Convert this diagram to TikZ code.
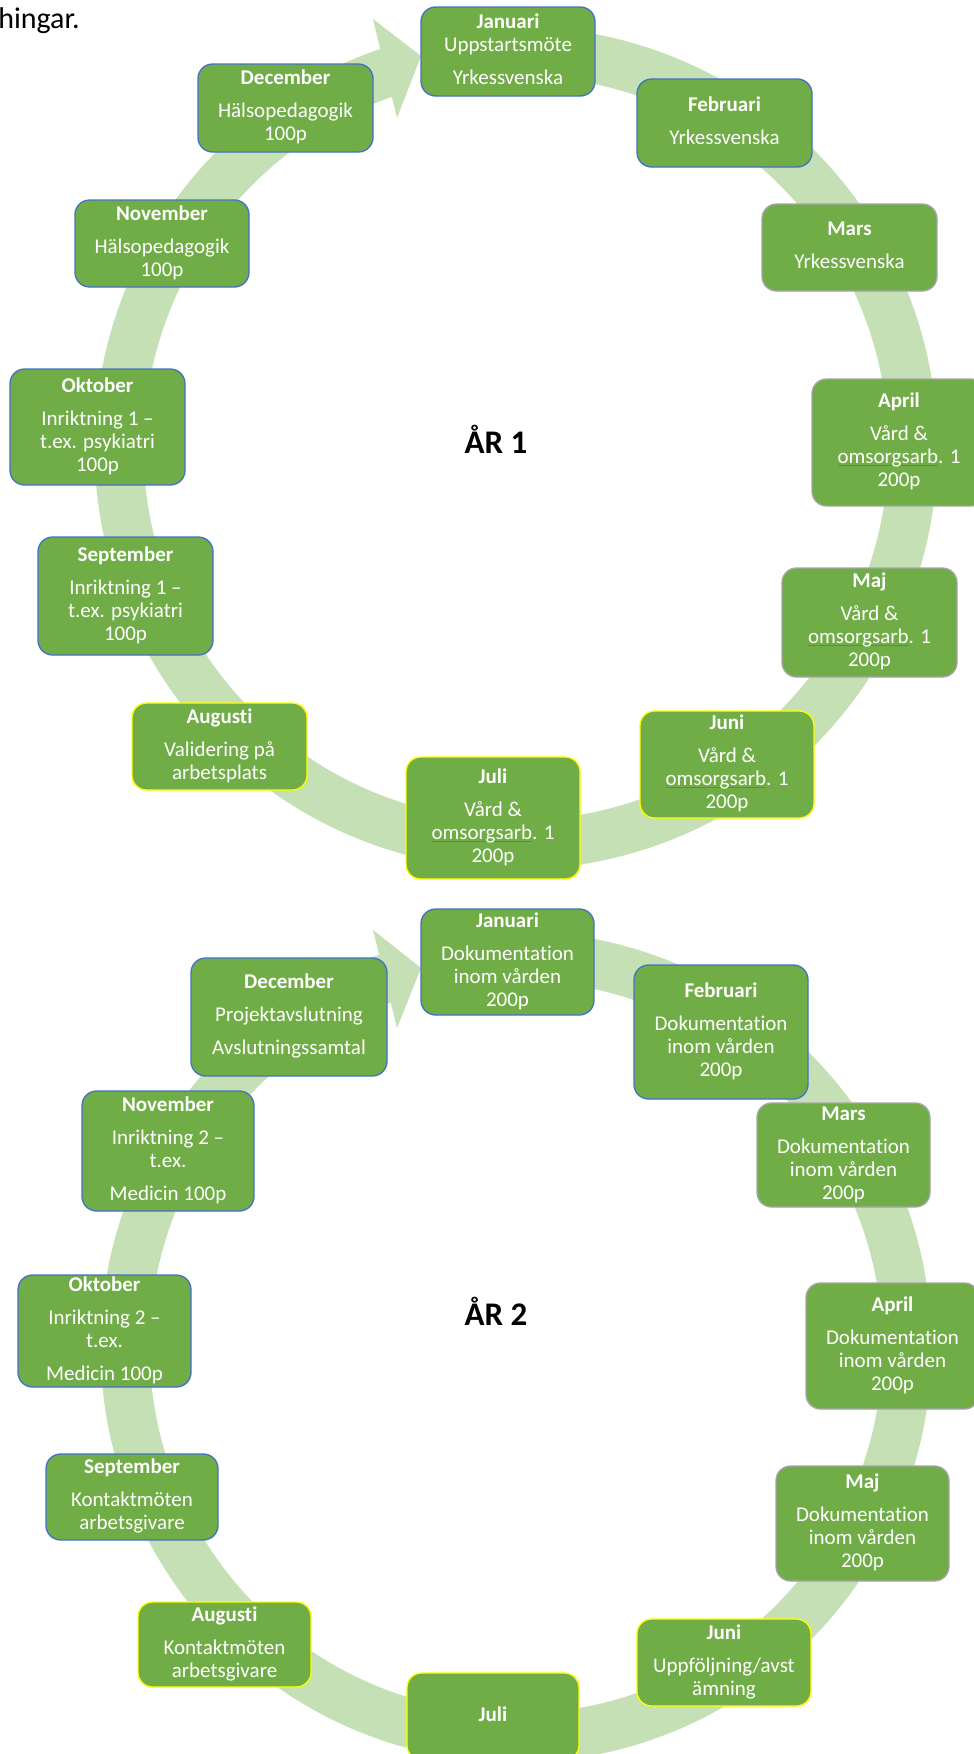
\documentclass[tikz,border=0pt]{standalone}
\usepackage{fontspec}
\setmainfont{Carlito}[Ligatures=NoCommon]
\definecolor{boxg}{HTML}{70AD47}
\definecolor{ringc}{HTML}{C5E0B4}
\definecolor{bblue}{HTML}{4472C4}
\definecolor{bgrey}{HTML}{A5A5A5}
\definecolor{byel}{HTML}{FFFF00}
\definecolor{sqred}{HTML}{D05050}
\newlength\sqw
\newcommand\sq[1]{\settowidth\sqw{#1}\makebox[0pt][l]{\textcolor{sqred}{\rule[-1.6pt]{\sqw}{0.4pt}}}#1}
\tikzset{
  mbox/.style={rounded corners=11pt, fill=boxg, line width=1pt, align=center,
    text=white, inner sep=0pt, font=\fontsize{15.75pt}{17.25pt}\selectfont},
  ringline/.style={draw=ringc, line width=36.75pt},
  yearlabel/.style={font=\fontsize{24.75pt}{28pt}\selectfont\bfseries, anchor=base, inner sep=0pt},
  toptext/.style={font=\fontsize{22.5pt}{26pt}\selectfont, anchor=base west, inner sep=0pt}
}
% name, x1, y1, x2, y2, border colour, text
\newcommand\mb[7]{%
  \pgfmathsetmacro\bw{(#4-#2)*0.75}%
  \pgfmathsetmacro\bh{(#5-#3)*0.75}%
  \node[mbox, draw=#6, minimum width=\bw pt, minimum height=\bh pt] (#1)
    at ({(#2+#4)/2},{(#3+#5)/2}) {\strut#7\strut};}
% cx, cy, r, head points
\newcommand\ringarrow[6]{%
  \draw[ringline] plot[domain=-86:252, samples=240] ({#1+#3*cos(\x)},{#2+#3*sin(\x)});
  \fill[ringc] #4 -- #5 -- #6 -- cycle;}
\newcommand\vo{Vård \&\\\sq{omsorgsarb}. 1\\200p}
\newcommand\dok{Dokumentation\\inom vården\\200p}
\begin{document}
\begin{tikzpicture}[x=0.75pt, y=-0.75pt]
\fill[white] (0,0) rectangle (974,1754);
\useasboundingbox (0,0) rectangle (974,1754);

\node[toptext] (top) at (-2,28) {hingar.};

% rings with arrowheads
\ringarrow{516}{448}{397}{(373,19)}{(397,118)}{(421,56)}
\ringarrow{516}{1347}{391}{(373,930)}{(397,1028)}{(421,968)}

% Year 1
\mb{jan1}{421}{7}{595}{96}{bblue}{\textbf{Januari}\\Uppstartsmöte\\[7.5pt]Yrkessvenska}
\mb{feb1}{637}{79}{812}{167}{bblue}{\textbf{Februari}\\[7.5pt]Yrkessvenska}
\mb{mar1}{762}{204}{937}{291}{bgrey}{\textbf{Mars}\\[7.5pt]Yrkessvenska}
\mb{apr1}{812}{379}{986}{506}{bgrey}{\textbf{April}\\[7.5pt]\vo}
\mb{maj1}{782}{568}{957}{677}{bgrey}{\textbf{Maj}\\[7.5pt]\vo}
\mb{jun1}{640}{711}{814}{818}{byel}{\textbf{Juni}\\[7.5pt]\vo}
\mb{jul1}{406}{757}{580}{879}{byel}{\textbf{Juli}\\[7.5pt]\vo}
\mb{aug1}{132}{703}{307}{790}{byel}{\textbf{Augusti}\\[7.5pt]Validering på\\arbetsplats}
\mb{sep1}{38}{537}{213}{655}{bblue}{\textbf{September}\\[7.5pt]Inriktning 1 –\\t.ex. psykiatri\\100p}
\mb{okt1}{10}{369}{185}{485}{bblue}{\textbf{Oktober}\\[7.5pt]Inriktning 1 –\\t.ex. psykiatri\\100p}
\mb{nov1}{75}{200}{249}{287}{bblue}{\textbf{November}\\[7.5pt]Hälsopedagogik\\100p}
\mb{dec1}{198}{64}{373}{152}{bblue}{\textbf{December}\\[7.5pt]Hälsopedagogik\\100p}
\node[yearlabel] (ar1) at (496,453) {ÅR 1};

% Year 2
\mb{jan2}{421}{909}{594}{1015}{bblue}{\textbf{Januari}\\[7.5pt]\dok}
\mb{feb2}{634}{965}{808}{1099}{bblue}{\textbf{Februari}\\[7.5pt]\dok}
\mb{mar2}{757}{1103}{930}{1207}{bgrey}{\textbf{Mars}\\[7.5pt]\dok}
\mb{apr2}{806}{1283}{979}{1409}{bgrey}{\textbf{April}\\[7.5pt]\dok}
\mb{maj2}{776}{1466}{949}{1581}{bgrey}{\textbf{Maj}\\[7.5pt]\dok}
\mb{jun2}{637}{1619}{811}{1706}{byel}{\textbf{Juni}\\[7.5pt]Uppföljning/avst\\ämning}
\mb{jul2}{407}{1673}{579}{1760}{byel}{\textbf{Juli}}
\mb{aug2}{138}{1602}{311}{1687}{byel}{\textbf{Augusti}\\[7.5pt]Kontaktmöten\\arbetsgivare}
\mb{sep2}{46}{1454}{218}{1540}{bblue}{\textbf{September}\\[7.5pt]Kontaktmöten\\arbetsgivare}
\mb{okt2}{18}{1275}{191}{1387}{bblue}{\textbf{Oktober}\\[7.5pt]Inriktning 2 –\\t.ex.\\[7.5pt]Medicin 100p}
\mb{nov2}{82}{1091}{254}{1211}{bblue}{\textbf{November}\\[7.5pt]Inriktning 2 –\\t.ex.\\[7.5pt]Medicin 100p}
\mb{dec2}{191}{958}{387}{1076}{bblue}{\textbf{December}\\[7.5pt]Projektavslutning\\[7.5pt]Avslutningssamtal}
\node[yearlabel] (ar2) at (496,1325) {ÅR 2};
\end{tikzpicture}
\end{document}
